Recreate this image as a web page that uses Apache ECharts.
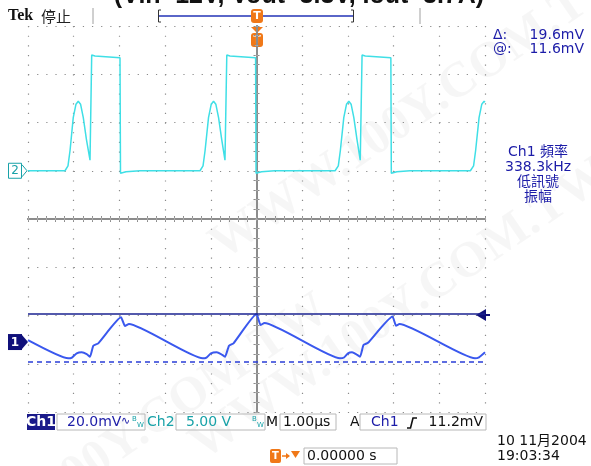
<!DOCTYPE html>
<html><head><meta charset="utf-8">
<script src="https://cdn.jsdelivr.net/npm/echarts@6/dist/echarts.min.js"></script>
<style>html,body{margin:0;padding:0;background:#fff}#c{width:591px;height:466px}</style>
</head><body><div id="c"></div>
<script>
// ---- data (time in µs, Ch2 in V, Ch1 in mV) ----
const ch2Time = [-5.00,-4.19,-4.125,-4.08,-4.01,-3.95,-3.90,-3.85,-3.79,-3.72,-3.643,-3.606,-3.534,-2.987,-2.976,-2.856,-2.549,
  -1.236,-1.17,-1.125,-1.05,-0.99,-0.94,-0.89,-0.83,-0.76,-0.69,-0.65,-0.58,-0.02,-0.01,0.11,0.40,
  1.72,1.79,1.835,1.91,1.97,2.02,2.07,2.13,2.20,2.27,2.31,2.38,2.94,2.95,3.07,3.36,
  4.68,4.75,4.795,4.87,4.93,4.98,5.00];
const ch2Volts = [0,0,0.5,2.1,5.5,6.9,7.2,6.9,5.5,3.2,1.1,12.0,11.9,11.7,-0.25,-0.1,0,
  0,0.5,2.1,5.5,6.9,7.2,6.9,5.5,3.2,1.1,12.0,11.9,11.7,-0.25,-0.1,0,
  0,0.5,2.1,5.5,6.9,7.2,6.9,5.5,3.2,1.1,12.0,11.9,11.7,-0.25,-0.1,0,
  0,0.5,2.1,5.5,6.9,7.2,7.1];
const ch1Time = [-5.00,-4.118,-4.037,-3.934,-3.825,-3.716,-3.643,-3.571,-3.462,-2.965,-2.877,-2.790,
  -1.177,-1.094,-0.996,-0.871,-0.777,-0.689,-0.602,-0.503,0.0,0.088,0.175,
  1.827,1.915,2.002,2.090,2.177,2.265,2.341,2.440,2.976,3.053,3.129,
  4.781,4.869,5.00];
const ch1MilliVolts = [0.8,-6.76,-6.42,-4.68,-4.27,-4.97,-6.09,-1.53,-0.54,10.24,6.63,7.46,
  -6.76,-6.42,-4.68,-4.27,-4.97,-6.09,-1.53,-0.54,11.6,7.05,7.88,
  -6.76,-6.42,-4.68,-4.27,-4.97,-6.09,-1.24,-0.33,10.57,6.76,7.46,
  -6.76,-6.34,-4.27];
const ch1CursorLevels = [11.6, -8.0];
const ch1TriggerLevel = 11.2;
const timeRange = [-5, 5];      // 1.00 µs/div, 10 div
const divRange = [-4, 4];       // 8 div
const ch1Range = [-29, 131];    // 20.0 mV/div
const ch2Range = [-25, 15];     // 5.00 V/div

const zip = (a, b) => a.map((v, i) => [v, b[i]]);

const G = {left: 28, top: 26, width: 457, height: 386};
const gray = '#8c8c8c';
const navy = '#1c1ca8';
const teal = '#18a2a8';
const orange = '#f07818';
const F = '"DejaVu Sans", "Noto Sans CJK TC", sans-serif';

function divAxis(extra) {
  return Object.assign({
    type: 'value', axisLabel: {show: false}, splitLine: {show: false},
    axisLine: {show: true, lineStyle: {color: gray, width: 2}},
    axisTick: {show: true, inside: true, length: 3, lineStyle: {color: gray}},
    minorTick: {show: true, splitNumber: 5, length: 3, lineStyle: {color: gray}}
  }, extra);
}
function centerAxis(extra, inside) {
  return Object.assign({
    type: 'value', axisLabel: {show: false}, splitLine: {show: false},
    axisLine: {show: true, onZero: true, lineStyle: {color: 'rgba(0,0,0,0)'}},
    axisTick: {show: true, inside: inside, length: 1.5, lineStyle: {color: '#a8a8a8'}},
    minorTick: {show: true, splitNumber: 5, length: 1.5, lineStyle: {color: '#a8a8a8'}}
  }, extra);
}

const chart = echarts.init(document.getElementById('c'), null, {renderer: 'canvas'});

function txt(x, y, text, fill, font, align, extra) {
  return Object.assign({type: 'text', x: x, y: y, silent: true,
    style: {text: text, fill: fill, font: font, align: align || 'left', verticalAlign: 'middle'}}, extra || {});
}
function box(x, y, w, h, fill, stroke) {
  return {type: 'rect', silent: true, shape: {x: x, y: y, width: w, height: h},
    style: {fill: fill || 'none', stroke: stroke || '#b8b8b8', lineWidth: 1}};
}
function tMarker(cx, y) {
  return [
    {type: 'rect', silent: true, shape: {x: cx - 6, y: y, width: 12, height: 14, r: 3}, style: {fill: orange}},
    txt(cx, y + 7.5, 'T', '#fff', 'bold 11px ' + F, 'center')
  ];
}
const wm = 'rgba(0,0,0,0.035)';
const wmFont = 'bold 50px "Liberation Serif"';

const staticGraphics = [
  // watermarks
  txt(420, 110, 'WWW.100Y.COM.TW', wm, wmFont, 'center', {rotation: 0.6, z: -10}),
  txt(400, 310, 'WWW.100Y.COM.TW', wm, wmFont, 'center', {rotation: 0.6, z: -10}),
  txt(120, 445, 'WWW.100Y.COM.TW', wm, wmFont, 'center', {rotation: 0.6, z: -10}),
  // title (cut off at top)
  txt(299, -3.5, '(Vin=12V, Vout=3.3V, Iout=3.7A)', '#111', 'bold 25px "Liberation Sans"', 'center'),
  // header
  txt(8, 16, 'Tek', '#111', 'bold 16px "Liberation Serif"'),
  txt(41, 16, '停止', '#222', '15px "Noto Sans CJK TC"'),
  {type: 'line', silent: true, shape: {x1: 93, y1: 8, x2: 93, y2: 24}, style: {stroke: '#a0a0a0', lineWidth: 1}},
  {type: 'line', silent: true, shape: {x1: 420, y1: 8, x2: 420, y2: 24}, style: {stroke: '#a0a0a0', lineWidth: 1}},
  {type: 'polyline', silent: true, shape: {points: [[161, 10], [158.5, 10], [158.5, 22], [161, 22]]}, style: {stroke: '#333', lineWidth: 1, fill: 'none'}},
  {type: 'polyline', silent: true, shape: {points: [[351, 10], [353.5, 10], [353.5, 22], [351, 22]]}, style: {stroke: '#333', lineWidth: 1, fill: 'none'}},
  {type: 'line', silent: true, shape: {x1: 159, y1: 16, x2: 353, y2: 16}, style: {stroke: '#5a66c8', lineWidth: 2}},
  ...tMarker(257, 9),
  {type: 'polygon', silent: true, shape: {points: [[251, 27], [263, 27], [257, 33]]}, style: {fill: orange}},
  ...tMarker(257, 33),
  // right info
  txt(493, 35, 'Δ:', navy, '14px ' + F),
  txt(584, 35, '19.6mV', navy, '14px ' + F, 'right'),
  txt(493, 49, '@:', navy, '14px ' + F),
  txt(584, 49, '11.6mV', navy, '14px ' + F, 'right'),
  txt(538, 152, 'Ch1 頻率', navy, '14px ' + F, 'center'),
  txt(538, 167, '338.3kHz', navy, '14px ' + F, 'center'),
  txt(538, 182, '低訊號', navy, '14px ' + F, 'center'),
  txt(538, 197, '振幅', navy, '14px ' + F, 'center'),
  // bottom status bar
  {type: 'rect', silent: true, shape: {x: 27, y: 414, width: 28, height: 16}, style: {fill: '#1a1a8a'}},
  txt(41, 422.5, 'Ch1', '#fff', 'bold 14px ' + F, 'center'),
  box(57, 414, 88, 16),
  txt(67, 422.5, '20.0mV', navy, '14px ' + F),
  txt(121, 421, '∿', navy, '11px ' + F),
  txt(132, 419, 'B', teal, '7px ' + F),
  txt(137, 425, 'W', teal, '7px ' + F),
  txt(147, 422.5, 'Ch2', teal, '14px ' + F),
  box(176, 414, 89, 16),
  txt(186, 422.5, '5.00 V', teal, '14px ' + F),
  txt(252, 419, 'B', teal, '7px ' + F),
  txt(257, 425, 'W', teal, '7px ' + F),
  txt(266, 422.5, 'M', '#111', '14px ' + F),
  box(280, 414, 56, 16),
  txt(283, 422.5, '1.00µs', '#111', '14px ' + F),
  txt(350, 422.5, 'A', '#111', '14px ' + F),
  box(360, 414, 126, 16),
  txt(371, 422.5, 'Ch1', navy, '14px ' + F),
  {type: 'polyline', silent: true, shape: {points: [[407, 428], [410.5, 428], [413, 418], [417, 418]]}, style: {stroke: '#111', lineWidth: 1.6, fill: 'none'}},
  txt(483, 422.5, '11.2mV', '#111', '14px ' + F, 'right'),
  // bottom row
  {type: 'rect', silent: true, shape: {x: 270, y: 449, width: 11, height: 14, r: 2}, style: {fill: orange}},
  txt(275.5, 456.5, 'T', '#fff', 'bold 10px ' + F, 'center'),
  {type: 'line', silent: true, shape: {x1: 282, y1: 456, x2: 289, y2: 456}, style: {stroke: orange, lineWidth: 1.5}},
  {type: 'polygon', silent: true, shape: {points: [[286, 453], [290, 456], [286, 459]]}, style: {fill: orange}},
  {type: 'polygon', silent: true, shape: {points: [[291, 451], [300, 451], [295.5, 458]]}, style: {fill: orange}},
  box(304, 448, 93, 16),
  txt(307, 456.5, '0.00000 s', '#111', '14px ' + F),
  txt(497, 441, '10 11月2004', '#111', '14px ' + F),
  txt(497, 456, '19:03:34', '#111', '14px ' + F)
];

const option = {
  animation: false,
  backgroundColor: '#fff',
  grid: [
    Object.assign({}, G),
    Object.assign({}, G),
    Object.assign({}, G)
  ],
  xAxis: [
    divAxis({gridIndex: 0, position: 'bottom', min: timeRange[0], max: timeRange[1], interval: 1,
      splitLine: {show: true, lineStyle: {color: '#8a8a8a', width: 1.2, type: [1.2, 8.45]}}}),
    divAxis({gridIndex: 0, position: 'top', min: timeRange[0], max: timeRange[1], interval: 1}),
    centerAxis({gridIndex: 1, min: timeRange[0], max: timeRange[1], interval: 1}, true),
    centerAxis({gridIndex: 2, min: timeRange[0], max: timeRange[1], interval: 1}, false)
  ],
  yAxis: [
    divAxis({gridIndex: 0, position: 'left', min: divRange[0], max: divRange[1], interval: 1,
      splitLine: {show: true, lineStyle: {color: '#8a8a8a', width: 1.2, type: [1.2, 7.94]}}}),
    divAxis({gridIndex: 0, position: 'right', min: divRange[0], max: divRange[1], interval: 1}),
    {type: 'value', gridIndex: 0, show: false, min: ch1Range[0], max: ch1Range[1], splitLine: {show: false}},
    {type: 'value', gridIndex: 0, show: false, min: ch2Range[0], max: ch2Range[1], splitLine: {show: false}},
    centerAxis({gridIndex: 1, min: divRange[0], max: divRange[1], interval: 1}, true),
    centerAxis({gridIndex: 2, min: divRange[0], max: divRange[1], interval: 1}, false)
  ],
  series: [
    {name: 'Ch2', type: 'line', xAxisIndex: 0, yAxisIndex: 3, data: zip(ch2Time, ch2Volts),
      symbol: 'none', smooth: false, lineStyle: {color: '#3fdfe6', width: 1.5}, z: 3},
    {name: 'Ch1', type: 'line', xAxisIndex: 0, yAxisIndex: 2, data: zip(ch1Time, ch1MilliVolts),
      symbol: 'none', smooth: 0.15, lineStyle: {color: '#3a58ee', width: 2}, z: 4,
      markLine: {silent: true, symbol: ['none', 'none'], label: {show: false}, animation: false,
        data: [
          {yAxis: ch1CursorLevels[0], lineStyle: {color: '#1a2290', width: 1.5, type: 'solid'}},
          {yAxis: ch1CursorLevels[1], lineStyle: {color: '#2a3ed8', width: 1.5, type: [5, 4]}}
        ]}}
  ],
  graphic: staticGraphics
};
chart.setOption(option);

// channel ground markers and trigger level arrow, placed via the axes
const y2 = chart.convertToPixel({yAxisIndex: 3}, 0);
const y1 = chart.convertToPixel({yAxisIndex: 2}, 0);
const yT = chart.convertToPixel({yAxisIndex: 2}, ch1TriggerLevel);
const dyn = [
  {type: 'rect', silent: true, shape: {x: 8.5, y: y2 - 7.5, width: 13, height: 15}, style: {fill: '#fff', stroke: teal, lineWidth: 1}},
  txt(15, y2 + 0.5, '2', teal, '12px ' + F, 'center'),
  {type: 'polyline', silent: true, shape: {points: [[22, y2 - 6], [27, y2], [22, y2 + 6]]}, style: {stroke: teal, lineWidth: 1, fill: 'none'}},
  {type: 'rect', silent: true, shape: {x: 8, y: y1 - 8, width: 14, height: 16}, style: {fill: '#10107a'}},
  txt(15, y1 + 0.5, '1', '#fff', 'bold 12px ' + F, 'center'),
  {type: 'polygon', silent: true, shape: {points: [[22, y1 - 7], [28, y1], [22, y1 + 7]]}, style: {fill: '#10107a'}},
  {type: 'polygon', silent: true, shape: {points: [[476, yT], [486, yT - 6], [486, yT + 6]]}, style: {fill: '#10107a'}},
  {type: 'line', silent: true, shape: {x1: 484, y1: yT, x2: 490, y2: yT}, style: {stroke: '#10107a', lineWidth: 2}}
];
chart.setOption({graphic: staticGraphics.concat(dyn)}, {replaceMerge: ['graphic']});
</script>
</body></html>
